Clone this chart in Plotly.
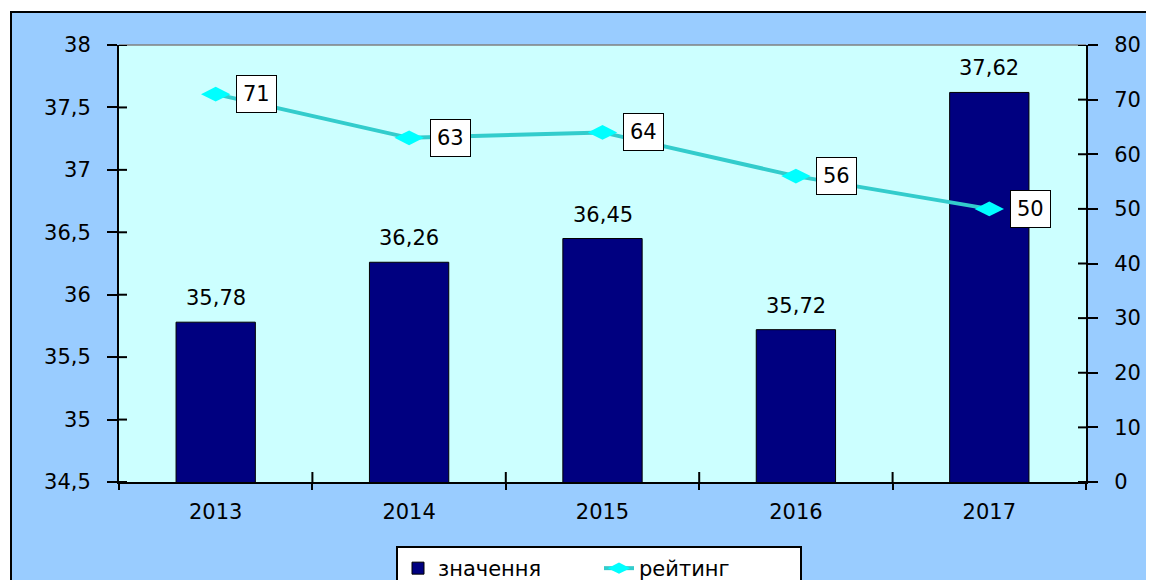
import plotly.graph_objects as go

years = ["2013", "2014", "2015", "2016", "2017"]
values = [35.78, 36.26, 36.45, 35.72, 37.62]
rating = [71, 63, 64, 56, 50]
bar_name = "значення"
line_name = "рейтинг"

# The page body adds an 8px offset; build the figure to fit the window.
OFF = 8
W, H = 1154 - OFF, 580 - OFF
ML = 119 - OFF
MT = 45 - OFF
MR = 1154 - 1086
MB = 580 - 482
PW, PH = W - ML - MR, H - MT - MB

def px(x):
    """reference pixel x -> paper coordinate"""
    return (x - OFF - ML) / PW

def py(y):
    """reference pixel y -> paper coordinate"""
    return (H - MB - (y - OFF)) / PH

FONT = "DejaVu Sans"
FS = 21
Y_RANGE = [34.5, 38]
Y_DTICK = 0.5
Y2_RANGE = [0, 80]
Y2_DTICK = 10

fig = go.Figure()
fig.add_trace(go.Bar(
    x=years, y=values, name=bar_name, width=0.41,
    marker=dict(color="#000080", line=dict(color="black", width=1)),
    yaxis="y",
))
fig.add_trace(go.Scatter(
    x=years, y=rating, name=line_name, mode="lines+markers",
    line=dict(color="#33CCCC", width=4),
    marker=dict(symbol="diamond-wide", size=21, color="#00FFFF"),
    yaxis="y2",
))

annotations = []
for i, v in enumerate(values):
    annotations.append(dict(
        x=i, y=v, xref="x", yref="y", text=f"{v:.2f}".replace(".", ","),
        showarrow=False, yanchor="bottom", yshift=10,
        font=dict(family=FONT, size=FS, color="black"),
    ))
for i, r in enumerate(rating):
    annotations.append(dict(
        x=i, y=r, xref="x", yref="y2", text=str(r),
        showarrow=False, xanchor="center", yanchor="middle", xshift=41,
        bgcolor="white", bordercolor="black", borderwidth=1, borderpad=6,
        font=dict(family=FONT, size=FS, color="black"),
    ))

shapes = [
    # white outer margin strips (continuing the page's white edge)
    dict(type="rect", xref="paper", yref="paper", x0=px(8), x1=px(10), y0=py(580), y1=py(8),
         fillcolor="white", line=dict(width=0), layer="above"),
    dict(type="rect", xref="paper", yref="paper", x0=px(8), x1=px(1154), y0=py(11), y1=py(8),
         fillcolor="white", line=dict(width=0), layer="above"),
    # black frame
    dict(type="line", xref="paper", yref="paper", x0=px(11), x1=px(11), y0=py(11), y1=py(580),
         line=dict(color="black", width=2), layer="above"),
    dict(type="line", xref="paper", yref="paper", x0=px(10), x1=px(1154), y0=py(12), y1=py(12),
         line=dict(color="black", width=2), layer="above"),
    # gray top border of plot area
    dict(type="line", xref="paper", yref="paper", x0=0, x1=1, y0=1, y1=1,
         line=dict(color="#808080", width=1.5), layer="above"),
]

# inner halves of the crossing tick marks
n_y = int(round((Y_RANGE[1] - Y_RANGE[0]) / Y_DTICK))
for k in range(n_y + 1):
    v = Y_RANGE[0] + k * Y_DTICK
    shapes.append(dict(type="line", xref="paper", xsizemode="pixel", xanchor=0, x0=0, x1=8,
                       yref="y", y0=v, y1=v, line=dict(color="black", width=2), layer="above"))
n_y2 = int(round((Y2_RANGE[1] - Y2_RANGE[0]) / Y2_DTICK))
for k in range(n_y2 + 1):
    v = Y2_RANGE[0] + k * Y2_DTICK
    shapes.append(dict(type="line", xref="paper", xsizemode="pixel", xanchor=1, x0=0, x1=-8,
                       yref="y2", y0=v, y1=v, line=dict(color="black", width=2), layer="above"))
for k in range(len(years) - 1):
    b = k + 0.5
    shapes.append(dict(type="line", yref="paper", ysizemode="pixel", yanchor=0, y0=0, y1=10,
                       xref="x", x0=b, x1=b, line=dict(color="black", width=2), layer="above"))

fig.update_layout(
    width=W, height=H,
    margin=dict(l=ML, r=MR, t=MT, b=MB, pad=0, autoexpand=False),
    paper_bgcolor="#99CCFF", plot_bgcolor="#CCFFFF",
    separators=", ",
    font=dict(family=FONT, size=FS, color="black"),
    showlegend=True,
    legend=dict(
        orientation="h", x=px(599), xanchor="center", y=py(546), yanchor="top",
        bgcolor="white", bordercolor="black", borderwidth=2,
        font=dict(family=FONT, size=FS, color="black"), traceorder="normal",
        entrywidth=156,
    ),
    xaxis=dict(
        type="category", range=[-0.5, len(years) - 0.5], autorange=False,
        showgrid=False, showline=True, linecolor="black", linewidth=2,
        ticks="outside", tickson="boundaries", ticklen=6, tickwidth=2, tickcolor="black",
        ticklabelstandoff=10, zeroline=False, automargin=False,
    ),
    yaxis=dict(
        range=Y_RANGE, dtick=Y_DTICK, showgrid=False, zeroline=False,
        showline=True, linecolor="black", linewidth=2,
        ticks="outside", ticklen=10, tickwidth=2, tickcolor="black",
        ticklabelstandoff=12, automargin=False,
    ),
    yaxis2=dict(
        range=Y2_RANGE, dtick=Y2_DTICK, overlaying="y", side="right", showgrid=False,
        zeroline=False, showline=True, linecolor="black", linewidth=2,
        ticks="outside", ticklen=10, tickwidth=2, tickcolor="black",
        ticklabelstandoff=12, automargin=False,
    ),
    annotations=annotations,
    shapes=shapes,
)

fig.write_html("out.html")
